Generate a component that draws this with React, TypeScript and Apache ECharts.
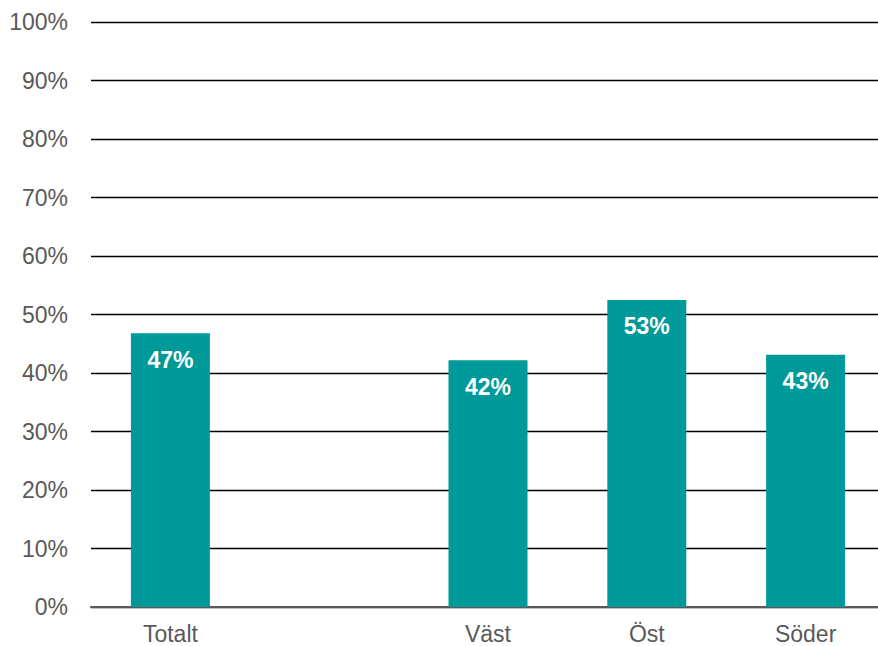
import React, { useEffect, useRef } from "react";
import * as echarts from "echarts";

const categories = ["Totalt", "", "Väst", "Öst", "Söder"];
const values: (number | null)[] = [46.8, null, 42.2, 52.5, 43.1];
const yTicks = { min: 0, max: 100, interval: 10 };

const FONT = "Liberation Sans, Arial, sans-serif";

export default function App() {
  const ref = useRef<HTMLDivElement>(null);
  useEffect(() => {
    document.body.style.margin = "0";
    const chart = echarts.init(ref.current!, undefined, { renderer: "svg" });
    chart.setOption({
      animation: false,
      grid: { left: 91, top: 22, width: 794, height: 585 },
      xAxis: {
        type: "category",
        data: categories,
        axisTick: { show: false },
        axisLine: { lineStyle: { color: "#595959", width: 2 } },
        axisLabel: {
          color: "#595959",
          fontSize: 23,
          fontFamily: FONT,
          margin: 15,
        },
      },
      yAxis: {
        type: "value",
        min: yTicks.min,
        max: yTicks.max,
        interval: yTicks.interval,
        axisLine: { show: false },
        axisTick: { show: false },
        splitLine: { lineStyle: { color: "#000000", width: 1.3 } },
        axisLabel: {
          color: "#595959",
          fontSize: 23,
          fontFamily: FONT,
          margin: 23,
          formatter: (v: number) => `${v}%`,
        },
      },
      series: [
        {
          type: "bar",
          data: values,
          barWidth: 79,
          itemStyle: { color: "#009999" },
          label: {
            show: true,
            position: "insideTop",
            distance: 15,
            color: "#ffffff",
            fontWeight: "bold",
            fontSize: 23,
            fontFamily: FONT,
            formatter: (p: any) => `${Math.round(p.value)}%`,
          },
        },
      ],
    });
    return () => chart.dispose();
  }, []);
  return (
    <div style={{ position: "fixed", left: 0, top: 0, width: 878, height: 646, overflow: "hidden", background: "#fff" }}>
      <div ref={ref} style={{ width: 892, height: 646 }} />
    </div>
  );
}
